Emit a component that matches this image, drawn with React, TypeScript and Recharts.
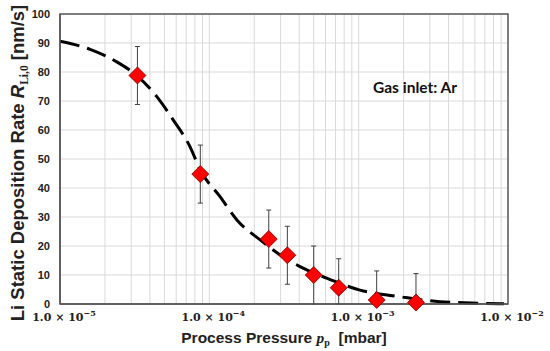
import {
  ComposedChart,
  Scatter,
  Line,
  XAxis,
  YAxis,
  CartesianGrid,
  ErrorBar,
  ReferenceArea,
} from 'recharts'

// measured points (mbar, nm/s)
const pressure = [3.3e-5, 8.7e-5, 2.5e-4, 3.33e-4, 5.0e-4, 7.35e-4, 1.32e-3, 2.42e-3]
const rate = [78.8, 44.8, 22.4, 16.8, 10, 5.6, 1.4, 0.5]
const rateErr = [10, 10, 10, 10, 10, 10, 10, 10]

// dashed fit curve
const fitPressure = [
  1e-5, 1.59e-5, 2.4e-5, 3.3e-5, 4.45e-5, 5.74e-5, 7.43e-5, 8.7e-5, 1.18e-4, 1.53e-4,
  2.19e-4, 2.98e-4, 4.05e-4, 6.1e-4, 1.02e-3, 1.89e-3, 3.5e-3, 9.4e-3,
]
const fitRate = [
  90.6, 87.8, 83.5, 78.6, 71.5, 63.4, 54.2, 46.2, 37, 29,
  22.1, 16.9, 12.9, 8.9, 4.8, 2.5, 0.8, 0.1,
]

const decades = [1e-5, 1e-4, 1e-3]
const xTicks = [...decades.flatMap((d) => [1, 2, 3, 4, 5, 6, 7, 8, 9].map((m) => m * d)), 1e-2]
const yTicks = [0, 10, 20, 30, 40, 50, 60, 70, 80, 90, 100]

const points = pressure.map((p, i) => ({
  p,
  r: rate[i],
  err: [Math.min(rateErr[i], rate[i]), rateErr[i]],
}))
const fit = fitPressure.map((p, i) => ({ p, fit: fitRate[i] }))

const Diamond = (props: any) => {
  const { cx, cy } = props
  const s = 8.5
  return (
    <polygon
      points={`${cx},${cy - s} ${cx + s},${cy} ${cx},${cy + s} ${cx - s},${cy}`}
      fill="#ff0000"
      stroke="#7a0000"
      strokeWidth={0.8}
    />
  )
}

const PressureTick = (props: any) => {
  const { x, y, payload } = props
  const lg = Math.log10(payload.value)
  const exp = Math.round(lg)
  if (Math.abs(lg - exp) > 1e-6) return null
  return (
    <text
      x={x + 4}
      y={y + 9}
      textAnchor="middle"
      fontFamily="'DejaVu Serif', serif"
      fontWeight="bold"
      fontSize={11}
      fill="#222"
    >
      1.0 × 10
      <tspan dy={-5} fontSize={8}>{`−${-exp}`}</tspan>
    </text>
  )
}

const XLabel = (props: any) => {
  const { viewBox } = props
  const cx = viewBox.x + viewBox.width / 2
  return (
    <text x={cx} y={343} textAnchor="middle" fontFamily="'Liberation Sans', Arial" fontWeight="bold" fontSize={15.5} fill="#222">
      Process Pressure{' '}
      <tspan fontFamily="'Liberation Serif', serif" fontStyle="italic">p</tspan>
      <tspan dy={3} fontSize={10} fontFamily="'Liberation Serif', serif">p</tspan>
      <tspan dy={-3}>{'\u00a0\u00a0[mbar]'}</tspan>
    </text>
  )
}

const YLabel = () => {
  const cx = 24
  const cy = 163
  return (
    <text
      x={cx}
      y={cy}
      transform={`rotate(-90 ${cx} ${cy})`}
      textAnchor="middle"
      fontFamily="'Liberation Sans', Arial"
      fontWeight="bold"
      fontSize={18.5}
      fill="#222"
    >
      Li Static Deposition Rate{' '}
      <tspan fontStyle="italic">R</tspan>
      <tspan dy={4} fontSize={11.5} fontFamily="'Liberation Serif', serif">Li,0</tspan>
      <tspan dy={-4}> [nm/s]</tspan>
    </text>
  )
}

export default function App() {
  return (
    <div style={{ position: 'absolute', left: 0, top: 0, width: 550, height: 351, background: '#fff' }}>
      <ComposedChart width={550} height={351} margin={{ top: 14, right: 42, bottom: 0, left: 0 }}>
        <CartesianGrid stroke="#d9d9d9" strokeWidth={1} />
        <XAxis
          dataKey="p"
          type="number"
          scale="log"
          domain={[1e-5, 1e-2]}
          allowDataOverflow
          ticks={xTicks}
          interval={0}
          tick={<PressureTick />}
          tickLine={false}
          axisLine={{ stroke: '#595959', strokeWidth: 1.5 }}
          height={47}
          label={<XLabel />}
        />
        <YAxis
          type="number"
          domain={[0, 100]}
          ticks={yTicks}
          interval={0}
          width={60}
          tickLine={false}
          tickMargin={4}
          tick={{ fontFamily: "'Liberation Sans', Arial", fontWeight: 'bold', fontSize: 11, fill: '#222' }}
          axisLine={{ stroke: '#595959', strokeWidth: 1.5 }}
          label={<YLabel />}
        />
        <ReferenceArea x1={1e-5} x2={1e-2} y1={0} y2={100} fill="none" stroke="#595959" strokeWidth={1.5} />
        <Scatter data={points} dataKey="r" shape={<Diamond />} isAnimationActive={false}>
          <ErrorBar dataKey="err" direction="y" width={2.5} stroke="#404040" strokeWidth={1} />
        </Scatter>
        <Line
          data={fit}
          dataKey="fit"
          type="monotone"
          stroke="#000"
          strokeWidth={3}
          strokeDasharray="20 8"
          dot={false}
          isAnimationActive={false}
        />
      </ComposedChart>
      <div
        style={{
          position: 'absolute',
          left: 415,
          top: 87,
          transform: 'translate(-50%, -50%)',
          fontFamily: 'Lato, sans-serif',
          fontWeight: 'bold',
          fontSize: 15.5,
          color: '#111',
          whiteSpace: 'nowrap',
        }}
      >
        Gas inlet: Ar
      </div>
    </div>
  )
}
